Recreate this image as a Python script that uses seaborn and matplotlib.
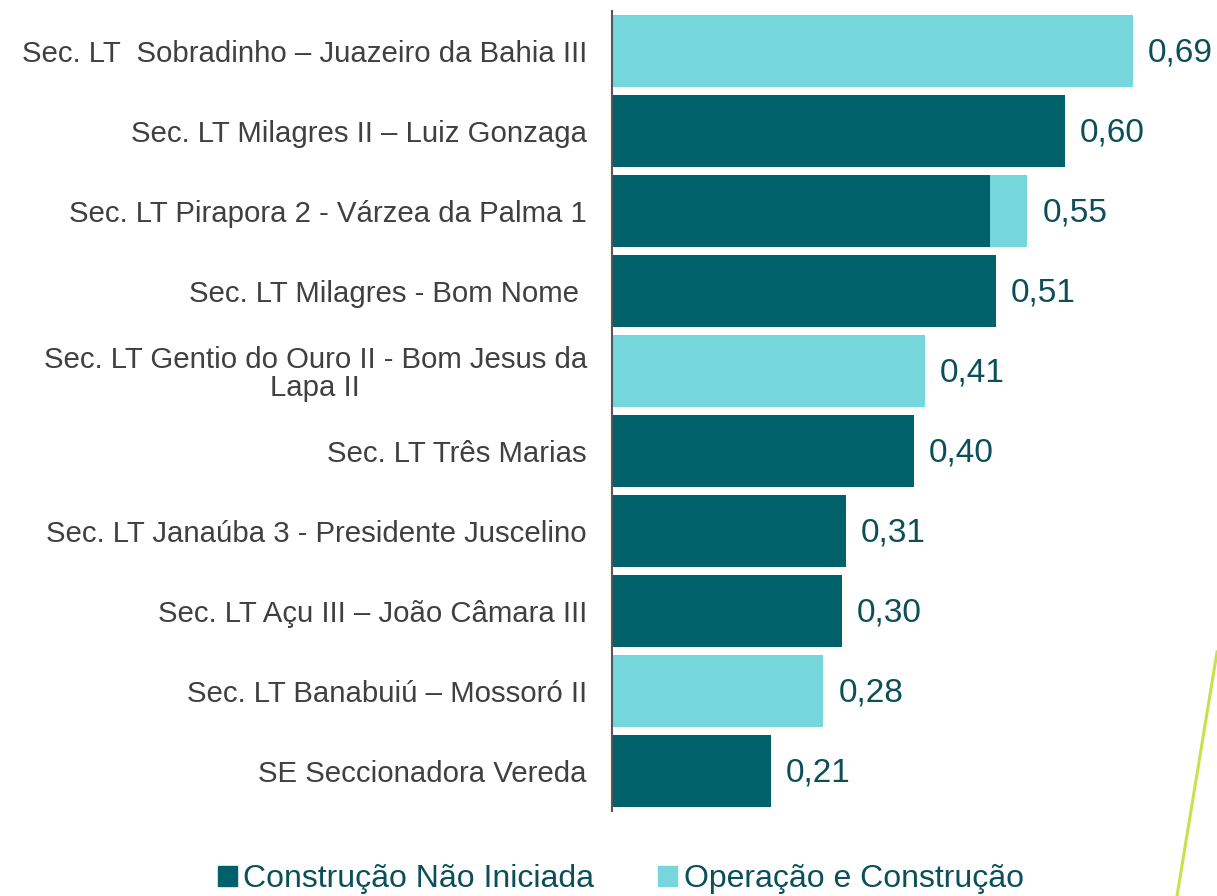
import matplotlib
matplotlib.use("Agg")
import matplotlib.pyplot as plt
import seaborn as sns
import pandas as pd
from matplotlib.lines import Line2D
from matplotlib.patches import Patch

# dados
categorias = [
    "Sec. LT  Sobradinho – Juazeiro da Bahia III",
    "Sec. LT Milagres II – Luiz Gonzaga",
    "Sec. LT Pirapora 2 - Várzea da Palma 1",
    "Sec. LT Milagres - Bom Nome ",
    "Sec. LT Gentio do Ouro II - Bom Jesus da\nLapa II",
    "Sec. LT Três Marias",
    "Sec. LT Janaúba 3 - Presidente Juscelino",
    "Sec. LT Açu III – João Câmara III",
    "Sec. LT Banabuiú – Mossoró II",
    "SE Seccionadora Vereda",
]
nao_iniciada = [0.00, 0.60, 0.50, 0.508, 0.00, 0.40, 0.31, 0.304, 0.00, 0.21]
operacao = [0.69, 0.00, 0.05, 0.00, 0.414, 0.00, 0.00, 0.00, 0.28, 0.00]
series = ["Construção Não Iniciada", "Operação e Construção"]

cor_escura = "#00616A"
cor_clara = "#75D6DC"
cor_texto = "#0B4F5A"

df = pd.DataFrame({"cat": categorias, "nao": nao_iniciada, "op": operacao})
df["total"] = df["nao"] + df["op"]

plt.rcParams["font.family"] = ["Liberation Sans", "DejaVu Sans"]

fig = plt.figure(figsize=(12.17, 8.96), dpi=100)
ax = fig.add_axes([612 / 1217, 85 / 896, 604 / 1217, 800 / 896])

# barra total (clara onde existe operacao, escura caso contrario)
cores_total = [cor_clara if o > 0 else cor_escura for o in df["op"]]
sns.barplot(data=df, y="cat", x="total", hue="cat", palette=cores_total,
            legend=False, width=0.9, orient="h", ax=ax, saturation=1,
            edgecolor="none", linewidth=0)
# parte escura por cima
sns.barplot(data=df[df["nao"] > 0], y="cat", x="nao", color=cor_escura,
            width=0.9, orient="h", ax=ax, saturation=1, order=categorias,
            edgecolor="none", linewidth=0)

for i, t in enumerate(df["total"]):
    ax.text(t + 0.02, i + 0.03, f"{t:.2f}".replace(".", ","), va="center",
            ha="left", fontsize=24, color=cor_texto)

ax.set_xlim(0, 0.8)
ax.set_ylim(9.5, -0.5)
ax.set_xlabel("")
ax.set_ylabel("")
ax.set_xticks([])
ax.tick_params(axis="y", length=0, pad=18, labelsize=21.2, labelcolor="#404040")
for lbl in ax.get_yticklabels():
    lbl.set_multialignment("center")
    lbl.set_linespacing(1.0)
for s in ["top", "right", "bottom"]:
    ax.spines[s].set_visible(False)
ax.spines["left"].set_color("#555555")
ax.spines["left"].set_linewidth(1.5)

handles = [Patch(color=cor_escura), Patch(color=cor_clara)]
fig.legend(handles, series, loc="center", bbox_to_anchor=(0.51, 1 - 879 / 896),
           ncol=2, frameon=False, fontsize=23, handlelength=0.6,
           handleheight=0.6, handletextpad=0.2, columnspacing=2,
           labelcolor=cor_texto)

# linha decorativa
fig.add_artist(Line2D([1217 / 1217, 1177 / 1217], [1 - 652 / 896, 0],
                      transform=fig.transFigure, color="#C8E04A", linewidth=2.2))

fig.savefig("out.png", dpi=100)
